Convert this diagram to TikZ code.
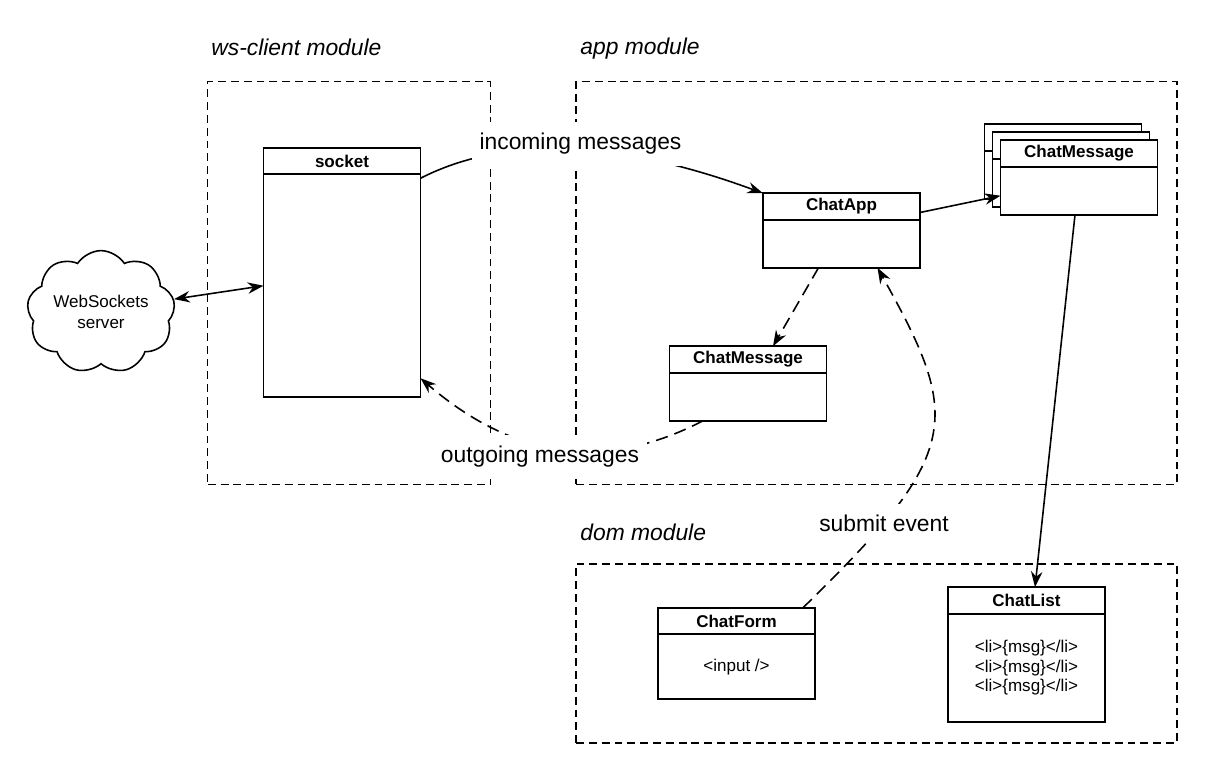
\documentclass[tikz,border=0pt]{standalone}
\usepackage{fontspec}
\setmainfont{Liberation Sans}
\usetikzlibrary{shapes.geometric, shapes.symbols, arrows.meta, positioning}

\tikzstyle{module} = [rectangle, inner sep=0pt, draw=black, line width=0.7pt, dash pattern=on 4.5pt off 2.8pt]
\tikzstyle{modulename} = [anchor=base west, inner sep=0pt, font=\itshape\fontsize{13}{15}\selectfont]
\tikzstyle{classname} = [rectangle, minimum width=3.14cm, minimum height=0.53cm, inner sep=0pt, outer sep=0pt, text centered, draw=black, line width=1.1pt, fill=white, font=\bfseries\fontsize{9.7}{11}\selectfont]
\tikzstyle{classbody} = [rectangle, minimum width=3.14cm, inner sep=0pt, outer sep=0pt, align=center, draw=black, line width=1.1pt, fill=white, font=\fontsize{9.7}{11}\selectfont]
\tikzstyle{cloudnode} = [cloud, cloud puffs=9, cloud puff arc=115, aspect=1.3, minimum width=2.96cm, minimum height=2.34cm, inner sep=0pt, align=center, draw=black, line width=0.9pt, font=\fontsize{9.7}{11.5}\selectfont]
\tikzstyle{arrow} = [line width=0.9pt,->,>={Stealth[length=9pt,width=6.5pt]}]
\tikzstyle{dasharrow} = [arrow, dash pattern=on 7pt off 4pt]
\tikzstyle{flowlabel} = [fill=white, inner xsep=0.16cm, inner ysep=0.22cm, font=\fontsize{13}{15}\selectfont]

\begin{document}
\begin{tikzpicture}[x=0.02cm, y=-0.02cm]
    \useasboundingbox (0,0) rectangle (1224,768);

    \node (wsclient) [module, minimum width=5.65cm, minimum height=8.05cm] at (349,283) {};
    \node (app) [module, minimum width=12.02cm, minimum height=8.05cm] at (876.5,283) {};
    \node (dom) [module, minimum width=12.02cm, minimum height=3.58cm] at (876.5,653.5) {};
    \node (wsclientname) [modulename] at (211,55) {ws-client module};
    \node (appname) [modulename] at (580,54) {app module};
    \node (domname) [modulename] at (580,540) {dom module};

    \node (server) [cloudnode] at (101,312) {WebSockets\\server};

    \node (socket) [classname] at (342,161) {socket};
    \node (socketbody) [classbody, minimum height=4.46cm, below=0pt of socket] {};

    \node (chatapp) [classname] at (841.5,206.5) {ChatApp};
    \node (chatappbody) [classbody, minimum height=0.96cm, below=0pt of chatapp] {};

    \node (chatmessage) [classname] at (748,359.5) {ChatMessage};
    \node (chatmessagebody) [classbody, minimum height=0.96cm, below=0pt of chatmessage] {};

    % stacked instances, back to front
    \node (stackback) [classname] at (1063,137.5) {};
    \node (stackbackbody) [classbody, minimum height=0.96cm, below=0pt of stackback] {};
    \node (stackmid) [classname] at (1071,145.5) {};
    \node (stackmidbody) [classbody, minimum height=0.96cm, below=0pt of stackmid] {};
    \node (chatmessages) [classname] at (1079,153.5) {ChatMessage};
    \node (chatmessagesbody) [classbody, minimum height=0.96cm, below=0pt of chatmessages] {};

    \node (chatform) [classname] at (736.5,621) {ChatForm};
    \node (chatformbody) [classbody, minimum height=1.3cm, below=0pt of chatform] {<input />};

    \node (chatlist) [classname] at (1026.5,600.5) {ChatList};
    \node (chatlistbody) [classbody, minimum height=2.16cm, below=0pt of chatlist] {<li>\{msg\}</li>\\<li>\{msg\}</li>\\<li>\{msg\}</li>};

    \draw [arrow, <->] (server.10) -- (socketbody.west);
    \draw [arrow] ([yshift=-0.08cm]socketbody.north east) .. controls (519,128) and (643,149) .. (chatapp.north west);
    \draw [arrow] ([yshift=-0.12cm]chatapp.east) -- ([yshift=-0.1cm]chatmessagesbody.west);
    \draw [dasharrow] ([xshift=-0.46cm]chatappbody.south) -- ([xshift=0.5cm]chatmessage.north);
    \draw [dasharrow] ([xshift=-0.9cm]chatmessagebody.south) .. controls (603,473) and (512,457) .. ([yshift=0.38cm]socketbody.south east);
    \draw [dasharrow] ([xshift=-0.24cm]chatform.north east) .. controls (963,452) and (962,419) .. ([xshift=0.72cm]chatappbody.south);
    \draw [arrow] ([xshift=-0.08cm]chatmessagesbody.south) -- ([xshift=0.17cm]chatlist.north);

    \node (incoming) [flowlabel] at (580.5,144) {incoming messages};
    \node (outgoing) [flowlabel] at (540,457) {outgoing messages};
    \node (submit) [flowlabel] at (884,523) {submit event};

\end{tikzpicture}
\end{document}
